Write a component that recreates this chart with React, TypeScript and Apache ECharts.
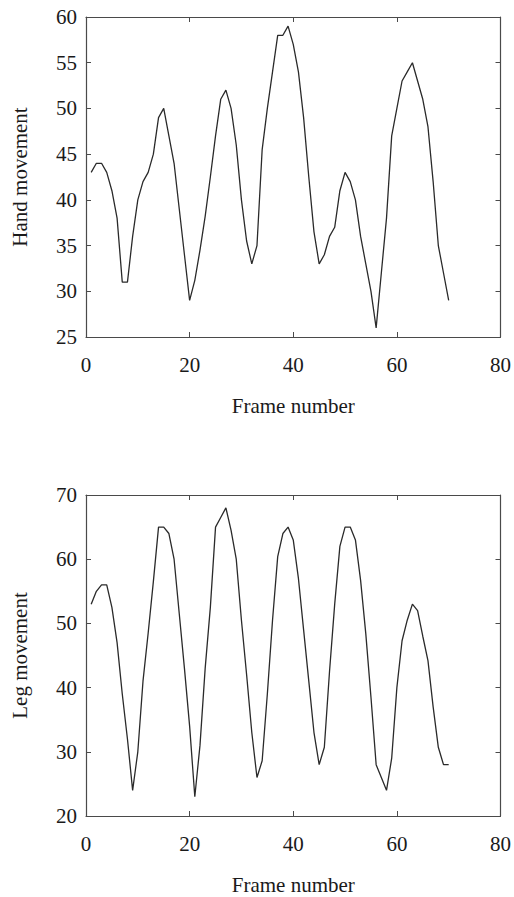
import React, { useEffect, useRef } from "react";
import * as echarts from "echarts";

const frames: number[] = [
  1, 2, 3, 4, 5, 6, 7, 8, 9, 10, 11, 12, 13, 14, 15, 16, 17, 18, 19, 20,
  21, 22, 23, 24, 25, 26, 27, 28, 29, 30, 31, 32, 33, 34, 35, 36, 37, 38, 39, 40,
  41, 42, 43, 44, 45, 46, 47, 48, 49, 50, 51, 52, 53, 54, 55, 56, 57, 58, 59, 60,
  61, 62, 63, 64, 65, 66, 67, 68, 69, 70,
];

const handMovement: number[] = [
  43, 44, 44, 43, 41, 38, 31, 31, 36, 40, 42, 43, 45, 49, 50, 47, 44, 39, 34, 29,
  31.2, 34.5, 38.2, 42.5, 47, 51, 52, 50, 46, 40, 35.5, 33, 35, 45.5, 50, 54, 58, 58, 59, 57,
  54, 49, 42.5, 36.5, 33, 34, 36, 37, 41, 43, 42, 40, 36, 33, 30, 26, 32, 38, 47, 50,
  53, 54, 55, 53, 51, 48, 42, 35, 32, 29,
];

const legMovement: number[] = [
  53, 55, 56, 56, 52.5, 47, 39, 32, 24, 30, 41, 48.5, 56.5, 65, 65, 64, 60, 51.5, 43, 34,
  23, 31, 43, 52.5, 65, 66.5, 68, 64.5, 60, 50.5, 42, 33, 26, 28.6, 39, 50.5, 60.4, 64, 65, 63,
  57, 49, 41, 33, 28, 30.7, 42.5, 53, 62, 65, 65, 63, 56.7, 48.4, 38.5, 28, 26, 24, 29, 40,
  47.3, 50.5, 53, 52, 48, 44.2, 37, 30.7, 28, 28,
];

const xTicks = { min: 0, max: 80, interval: 20 };
const handTicks = { min: 25, max: 60, interval: 5 };
const legTicks = { min: 20, max: 70, interval: 10 };

const FONT = "'Liberation Serif', 'Times New Roman', serif";
const AXIS_COLOR = "#4a4a4a";
const TEXT_COLOR = "#1a1a1a";
const LINE_COLOR = "#2a2a2a";

export default function App() {
  const ref = useRef<HTMLDivElement>(null);

  useEffect(() => {
    document.body.style.margin = "0";
    if (!ref.current) return;
    const chart = echarts.init(ref.current, undefined, { renderer: "svg" });

    const axisLine = { show: true, onZero: false, lineStyle: { color: AXIS_COLOR, width: 1.2 } };
    const axisTick = { show: true, inside: true, length: 5, lineStyle: { color: AXIS_COLOR, width: 1 } };
    const labelStyle = { fontFamily: FONT, fontSize: 21, color: TEXT_COLOR };

    const mainX = (gridIndex: number) => ({
      type: "value",
      gridIndex,
      position: "bottom",
      ...xTicks,
      axisLine,
      axisTick,
      splitLine: { show: false },
      axisLabel: { ...labelStyle, margin: 17 },
      name: "Frame number",
      nameLocation: "middle",
      nameGap: 58,
      nameTextStyle: { ...labelStyle },
    });
    const mirrorX = (gridIndex: number) => ({
      type: "value",
      gridIndex,
      position: "top",
      ...xTicks,
      axisLine,
      axisTick,
      splitLine: { show: false },
      axisLabel: { show: false },
    });
    const mainY = (gridIndex: number, ticks: any, name: string) => ({
      type: "value",
      gridIndex,
      position: "left",
      ...ticks,
      axisLine,
      axisTick,
      splitLine: { show: false },
      axisLabel: { ...labelStyle, margin: 9 },
      name,
      nameLocation: "middle",
      nameGap: 56,
      nameTextStyle: { ...labelStyle },
    });
    const mirrorY = (gridIndex: number, ticks: any) => ({
      type: "value",
      gridIndex,
      position: "right",
      ...ticks,
      axisLine,
      axisTick,
      splitLine: { show: false },
      axisLabel: { show: false },
    });

    chart.setOption({
      animation: false,
      backgroundColor: "#ffffff",
      grid: [
        { left: 86, right: 12, top: 17, height: 320 },
        { left: 86, right: 12, top: 495, height: 321 },
      ],
      xAxis: [mainX(0), mirrorX(0), mainX(1), mirrorX(1)],
      yAxis: [
        mainY(0, handTicks, "Hand movement"),
        mirrorY(0, handTicks),
        mainY(1, legTicks, "Leg movement"),
        mirrorY(1, legTicks),
      ],
      series: [
        {
          name: "Hand movement",
          type: "line",
          xAxisIndex: 0,
          yAxisIndex: 0,
          data: frames.map((f, i) => [f, handMovement[i]]),
          showSymbol: false,
          lineStyle: { color: LINE_COLOR, width: 1.3 },
        },
        {
          name: "Leg movement",
          type: "line",
          xAxisIndex: 2,
          yAxisIndex: 2,
          data: frames.map((f, i) => [f, legMovement[i]]),
          showSymbol: false,
          lineStyle: { color: LINE_COLOR, width: 1.3 },
        },
      ],
    });

    return () => {
      chart.dispose();
    };
  }, []);

  return <div ref={ref} style={{ width: 514, height: 897 }} />;
}
